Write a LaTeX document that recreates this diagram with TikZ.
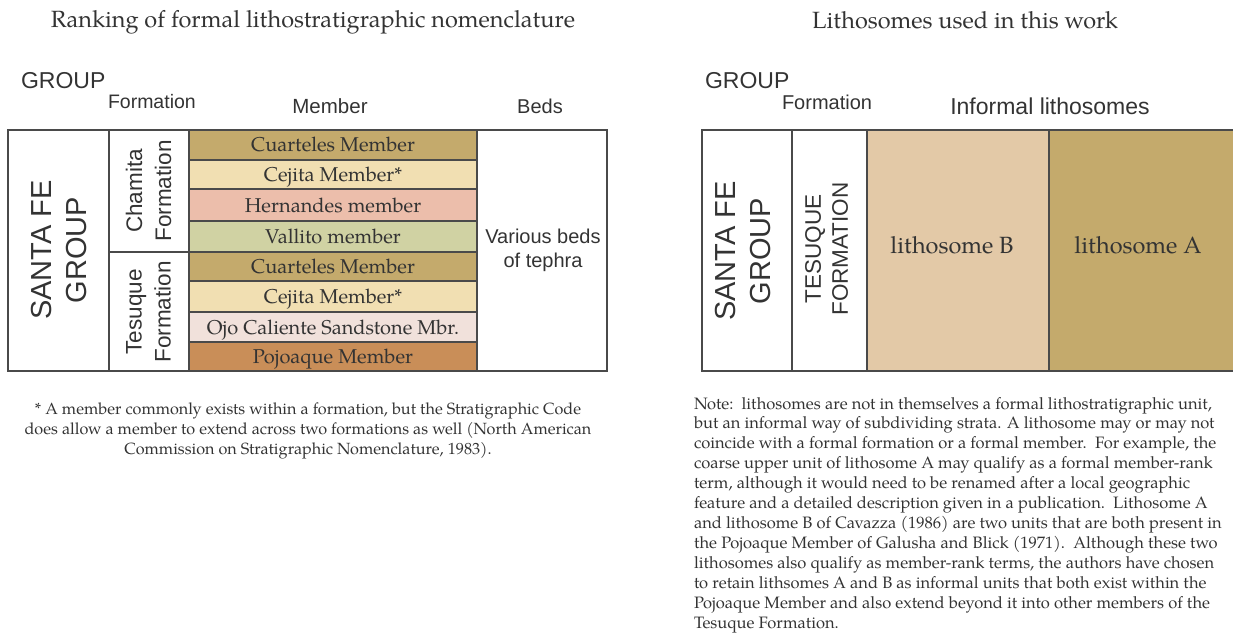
\documentclass[tikz,border=0pt]{standalone}
\usepackage{fontspec}
\setmainfont{TeX Gyre Pagella}
\newfontfamily\sansf{Liberation Sans}
\definecolor{linec}{HTML}{4A4A4A}
\definecolor{txt}{HTML}{333333}
\definecolor{cuart}{HTML}{C4AA6C}
\definecolor{cejita}{HTML}{F1DFB2}
\definecolor{hern}{HTML}{ECBEAB}
\definecolor{vall}{HTML}{D0D2A3}
\definecolor{ojo}{HTML}{F1E1DB}
\definecolor{pojo}{HTML}{C98E58}
\definecolor{lithB}{HTML}{E3C9A7}
\definecolor{lithA}{HTML}{C4AA6C}
\tikzset{
  box/.style={draw=linec, line width=1.4pt, inner sep=0pt, outer sep=0pt},
  mem/.style={box, minimum width=288pt, text=txt, text height=14pt, text depth=0pt, font=\fontsize{20}{24}\selectfont},
  lab/.style={inner sep=0pt, outer sep=0pt, text=txt},
  vlab/.style={lab, rotate=90, align=center},
  title/.style={lab, font=\fontsize{23.5}{28}\selectfont},
}
\begin{document}
\begin{tikzpicture}[x=1pt,y=-1pt]
\useasboundingbox (0,0) rectangle (1233,639);
% titles
\node[title] (t1) at (313,22) {Ranking of formal lithostratigraphic nomenclature};
\node[title] (t2) at (965,20) {Lithosomes used in this work};
% left headers
\node[lab, anchor=west, font=\sansf\fontsize{23}{27}\selectfont] (hg1) at (21,81) {GROUP};
\node[lab, anchor=west, font=\sansf\fontsize{19.5}{23}\selectfont] (hf1) at (108,102) {Formation};
\node[lab, font=\sansf\fontsize{20.5}{24}\selectfont] (hm) at (330,106) {Member};
\node[lab, font=\sansf\fontsize{20}{24}\selectfont] (hb) at (540,106) {Beds};
% left table
\node[box, minimum width=101pt, minimum height=241pt] (sf1) at (58.5,250.5) {};
\node[vlab, font=\sansf\fontsize{29}{35}\selectfont] (sf1t) at (59.5,250) {SANTA FE\\GROUP};
\node[box, minimum width=80pt, minimum height=122pt] (fch) at (149,191) {};
\node[vlab, font=\sansf\fontsize{22.5}{29}\selectfont] (fcht) at (148.5,191) {Chamita\\Formation};
\node[box, minimum width=80pt, minimum height=119pt] (fte) at (149,311.5) {};
\node[vlab, font=\sansf\fontsize{22.5}{29}\selectfont] (ftet) at (148.5,312) {Tesuque\\Formation};
\node[mem, fill=cuart, minimum height=30pt] (m1) at (333,145) {Cuarteles Member};
\node[mem, fill=cejita, minimum height=29pt] (m2) at (333,174.5) {Cejita Member*};
\node[mem, fill=hern, minimum height=32pt] (m3) at (333,205) {Hernandes member};
\node[mem, fill=vall, minimum height=31pt] (m4) at (333,236.5) {Vallito member};
\node[mem, fill=cuart, minimum height=29pt] (m5) at (333,266.5) {Cuarteles Member};
\node[mem, fill=cejita, minimum height=31pt] (m6) at (333,296.5) {Cejita Member*};
\node[mem, fill=ojo, minimum height=30pt] (m7) at (333,327) {Ojo Caliente Sandstone Mbr.};
\node[mem, fill=pojo, minimum height=29pt] (m8) at (333,356.5) {Pojoaque Member};
\node[box, minimum width=130pt, minimum height=241pt] (beds) at (542,250.5) {};
\node[lab, align=center, font=\sansf\fontsize{20}{24}\selectfont] (bedst) at (543,250) {Various beds\\of tephra};
% footnote
\node[lab, align=center, font=\fontsize{16.2}{20}\selectfont] (foot) at (308,431) {* A member commonly exists within a formation, but the Stratigraphic Code\\does allow a member to extend across two formations as well (North American\\Commission on Stratigraphic Nomenclature, 1983).};
% right headers
\node[lab, anchor=west, font=\sansf\fontsize{23}{27}\selectfont] (hg2) at (705,81) {GROUP};
\node[lab, anchor=west, font=\sansf\fontsize{20}{24}\selectfont] (hf2) at (782,102) {Formation};
\node[lab, font=\sansf\fontsize{23}{27}\selectfont] (hi) at (1050,106) {Informal lithosomes};
% right table
\fill[lithB] (867,130) rectangle (1049,371);
\fill[lithA] (1049,130) rectangle (1233,371);
\node[box, draw=none, minimum width=90pt, minimum height=241pt] (sf2) at (747,250.5) {};
\node[vlab, font=\sansf\fontsize{29}{35}\selectfont] (sf2t) at (743,251) {SANTA FE\\GROUP};
\node[box, draw=none, minimum width=75pt, minimum height=241pt] (tf2) at (829.5,250.5) {};
\node[vlab, font=\sansf\fontsize{22.5}{27}\selectfont] (tf2t) at (826.5,249) {TESUQUE\\FORMATION};
\node[box, draw=none, minimum width=182pt, minimum height=241pt] (lB) at (958,250.5) {};
\node[lab, font=\fontsize{23.5}{27}\selectfont] (lBt) at (952,245) {lithosome B};
\node[box, draw=none, minimum width=184pt, minimum height=241pt] (lA) at (1141,250.5) {};
\node[lab, font=\fontsize{23.5}{27}\selectfont] (lAt) at (1138,245) {lithosome A};
\draw[linec, line width=1.4pt] (sf2.north east) -- (sf2.south east);
\draw[linec, line width=1.4pt] (tf2.north east) -- (tf2.south east);
\draw[linec, line width=2pt] (lB.north east) -- (lB.south east);
\draw[linec, line width=2.4pt] (lA.north east) -- (sf2.north west) -- (sf2.south west) -- (lA.south east);
% note
\node[lab, anchor=north west, align=left, font=\fontsize{16.5}{19.95}\selectfont] (note) at (694,397) {Note:\ \ lithosomes are not in themselves a formal lithostratigraphic unit,\\
but an informal way of subdividing strata. A lithosome may or may not\\
coincide with a formal formation or a formal member.\ \ For example, the\\
coarse upper unit of lithosome A may qualify as a formal member-rank\\
term, although it would need to be renamed after a local geographic\\
feature and a detailed description given in a publication.\ \ Lithosome A\\
and lithosome B of Cavazza (1986) are two units that are both present in\\
the Pojoaque Member of Galusha and Blick (1971).\ \ Although these two\\
lithosomes also qualify as member-rank terms, the authors have chosen\\
to retain lithsomes A and B as informal units that both exist within the\\
Pojoaque Member and also extend beyond it into other members of the\\
Tesuque Formation.};
\end{tikzpicture}
\end{document}
